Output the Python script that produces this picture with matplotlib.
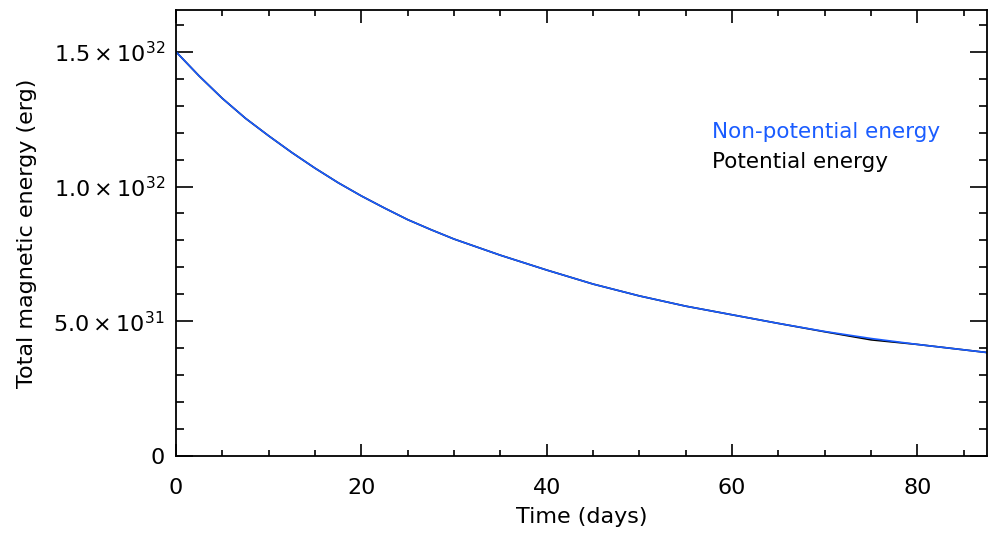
import matplotlib
matplotlib.use('Agg')
import matplotlib.pyplot as plt
from matplotlib.ticker import MultipleLocator

# time axis (days) and energies, in units of 1e32 erg
days = [0, 2.5, 5, 7.5, 10, 12.5, 15, 17.5, 20, 22.5, 25, 27.5, 30, 35, 40,
        45, 50, 55, 60, 65, 70, 75, 80, 85, 87.5]
non_potential = [1.50, 1.41, 1.327, 1.253, 1.188, 1.126, 1.068, 1.014, 0.965,
                 0.920, 0.877, 0.840, 0.805, 0.745, 0.690, 0.638, 0.594,
                 0.556, 0.524, 0.492, 0.462, 0.436, 0.414, 0.394, 0.384]
potential = [1.50, 1.41, 1.327, 1.253, 1.188, 1.126, 1.068, 1.014, 0.965,
             0.920, 0.877, 0.840, 0.805, 0.745, 0.690, 0.638, 0.594,
             0.556, 0.524, 0.492, 0.461, 0.431, 0.414, 0.394, 0.384]

ytick_vals = [0, 0.5, 1.0, 1.5]
ytick_labels = ['0', r'$5.0\times10^{31}$', r'$1.0\times10^{32}$', r'$1.5\times10^{32}$']
xtick_vals = [0, 20, 40, 60, 80]

blue = '#1a5cff'

fig = plt.figure(figsize=(9.88, 5.38), dpi=100)
ax = fig.add_axes([176 / 988, 82 / 538, 811 / 988, 446 / 538])

# potential energy first, non-potential drawn on top of it
ax.plot(days, potential, color='black', lw=1.2)
ax.plot(days, non_potential, color=blue, lw=1.2)

ax.set_xlim(0, 87.5)
ax.set_ylim(0, 1.655)

ax.set_xticks(xtick_vals)
ax.set_yticks(ytick_vals)
ax.set_yticklabels(ytick_labels)
ax.xaxis.set_minor_locator(MultipleLocator(5))
ax.yaxis.set_minor_locator(MultipleLocator(0.1))

ax.tick_params(which='both', direction='in', top=True, right=True,
               labelsize=16, width=1.2, color='black')
ax.tick_params(axis='x', which='major', length=9, pad=16)
ax.tick_params(axis='x', which='minor', length=4.5)
ax.tick_params(axis='y', which='major', length=12, pad=8)
ax.tick_params(axis='y', which='minor', length=6)
for s in ax.spines.values():
    s.set_linewidth(1.3)

ax.set_xlabel('Time (days)', fontsize=16, labelpad=6)
ax.set_ylabel('Total magnetic energy (erg)', fontsize=16, labelpad=12)

# legend as coloured text
ax.text(0.661, 0.726, 'Non-potential energy', color=blue, fontsize=15.5,
        transform=ax.transAxes, va='center', ha='left')
ax.text(0.661, 0.659, 'Potential energy', color='black', fontsize=15.5,
        transform=ax.transAxes, va='center', ha='left')

fig.savefig('out.png', dpi=100)
